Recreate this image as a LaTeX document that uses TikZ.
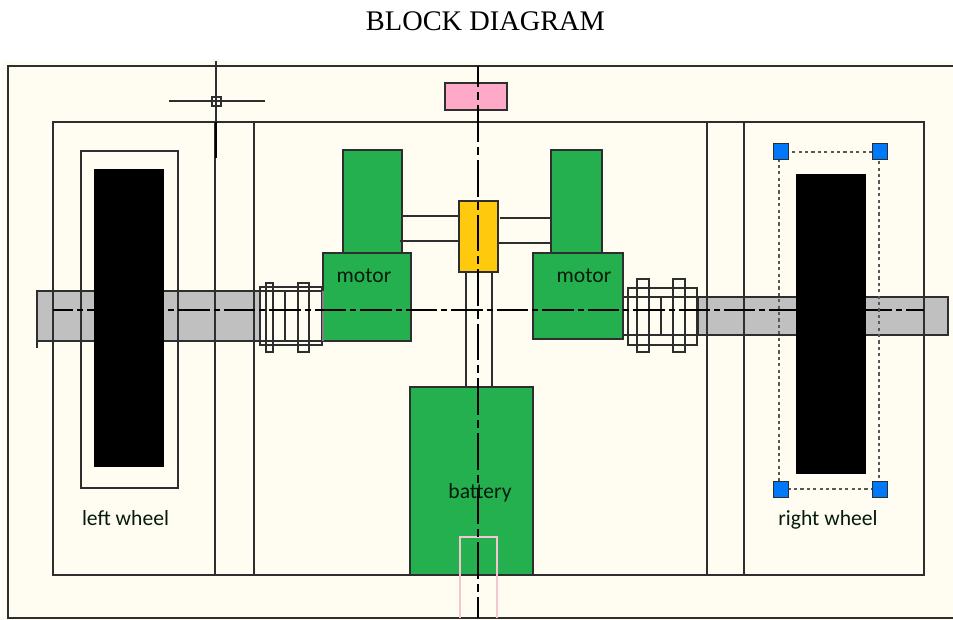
\documentclass[tikz,border=0pt]{standalone}
\usepackage{fontspec}
\setmainfont{Carlito}
\newfontfamily\titlefont{Liberation Serif}
\usetikzlibrary{calc}
\definecolor{cream}{HTML}{FFFDF2}
\definecolor{linegray}{HTML}{2E2E2E}
\definecolor{shaftgray}{HTML}{C0C0C0}
\definecolor{blockgreen}{HTML}{24B04E}
\definecolor{gearyellow}{HTML}{FFC90E}
\definecolor{sensorpink}{HTML}{FFA9C9}
\definecolor{thinpink}{HTML}{F7C4D2}
\definecolor{gripblue}{HTML}{0078FA}
\tikzset{
  part/.style={draw=linegray,line width=0.85pt},
  hcenter/.style={draw=black,line width=0.85pt,dash pattern=on 23.6pt off 3pt on 4.5pt off 3pt,dash phase=8.25pt},
  vcenter/.style={draw=black,line width=0.85pt,dash pattern=on 27.45pt off 3.75pt on 6pt off 3.75pt,dash phase=11.4pt},
  lbl/.style={font=\fontsize{16.2}{18}\selectfont,text=black!85!blockgreen,inner sep=0pt,anchor=base},
}
\begin{document}
\begin{tikzpicture}[x=0.75pt,y=-0.75pt]
\useasboundingbox (0,0) rectangle (953,620);
\fill [cream] (2,61) rectangle (953,620);
% shafts
\fill [shaftgray] (37,291) rectangle (260,341);
\fill [shaftgray] (698,297) rectangle (948,335);
\draw [part] (953,66) -- (8,66) -- (8,618) -- (953,618);
\draw [part] (53,122) rectangle (924,575);
\foreach \x in {215,254,707,744}
  \draw [part] (\x,122) -- (\x,575);
% wheel frames
\draw [part] (81,151) rectangle (178,488);
\draw [part] (37,348) -- (37,291) -- (260,291) -- (260,341) -- (37,341);
\draw [part] (698,297) -- (948,297) -- (948,335) -- (698,335) -- cycle;
% couplings
\draw [part] (260,287) rectangle (322,345);
\draw [part] (266,283) rectangle (273,352);
\draw [part] (298,283) rectangle (309,352);
\draw [part] (260,291) -- (322,291) (260,341) -- (322,341) (285,291) -- (285,341);
\draw [part] (628,288) rectangle (697,345);
\draw [part] (637,279) rectangle (649,352);
\draw [part] (673,279) rectangle (685,352);
\draw [part] (623,297) -- (698,297) (623,335) -- (698,335) (661,297) -- (661,335);
% motors and gearbox
\draw [part,fill=blockgreen] (343,150) rectangle (402,253);
\draw [part,fill=blockgreen] (551,150) rectangle (602,253);
\draw [part,fill=blockgreen] (323,253) rectangle (411,341);
\fill [gray] (322,291) rectangle (324,341);
\draw [part,fill=blockgreen] (533,253) rectangle (623,339);
\draw [part] (402,216) -- (459,216) (400,241) -- (459,241);
\draw [part] (500,218) -- (551,218) (496,243) -- (551,243);
\draw [part,fill=gearyellow] (459,201) rectangle (498,272);
\draw [part] (466,272) -- (466,387) (492,272) -- (492,387);
\draw [part,fill=blockgreen] (410,387) rectangle (533,575);
\draw [part,fill=sensorpink] (445,83) rectangle (507,110);
\draw [thinpink,line width=0.85pt] (460,618) -- (460,537) -- (497,537) -- (497,618);
% center lines
\draw [hcenter] (53,310) -- (924,310);
\draw [vcenter] (478,66) -- (478,618);
% wheels
\fill [black] (94,169) rectangle (164,467);
\fill [black] (796,174) rectangle (866,474);
% selected wheel
\draw [draw=linegray!80,line width=1.3pt,dash pattern=on 2.4pt off 2.4pt] (779,152) rectangle (879,489);
\foreach \x in {780.5,879.5}
  \foreach \y in {151.5,489.5}
    \draw [draw=linegray,line width=0.6pt,fill=gripblue] (\x-7.5,\y-8) rectangle (\x+7.5,\y+8);
% cursor
\draw [part] (216,61) -- (216,122) (169,101) -- (265,101);
\draw [draw=black,line width=1.5pt] (216,122) -- (216,158);
\draw [part] (212,97) rectangle (221,106);
\node [text=black] (title) at (485.5,21) {\titlefont\fontsize{21.3}{24}\selectfont BLOCK DIAGRAM};
\node [lbl] (motorleft) at (364,283) {motor};
\node [lbl] (motorright) at (584,282.5) {motor};
\node [lbl] (battery) at (480,498) {battery};
\node [lbl] (leftwheel) at (125.5,525) {left wheel};
\node [lbl] (rightwheel) at (828,525) {right wheel};
\end{tikzpicture}
\end{document}
